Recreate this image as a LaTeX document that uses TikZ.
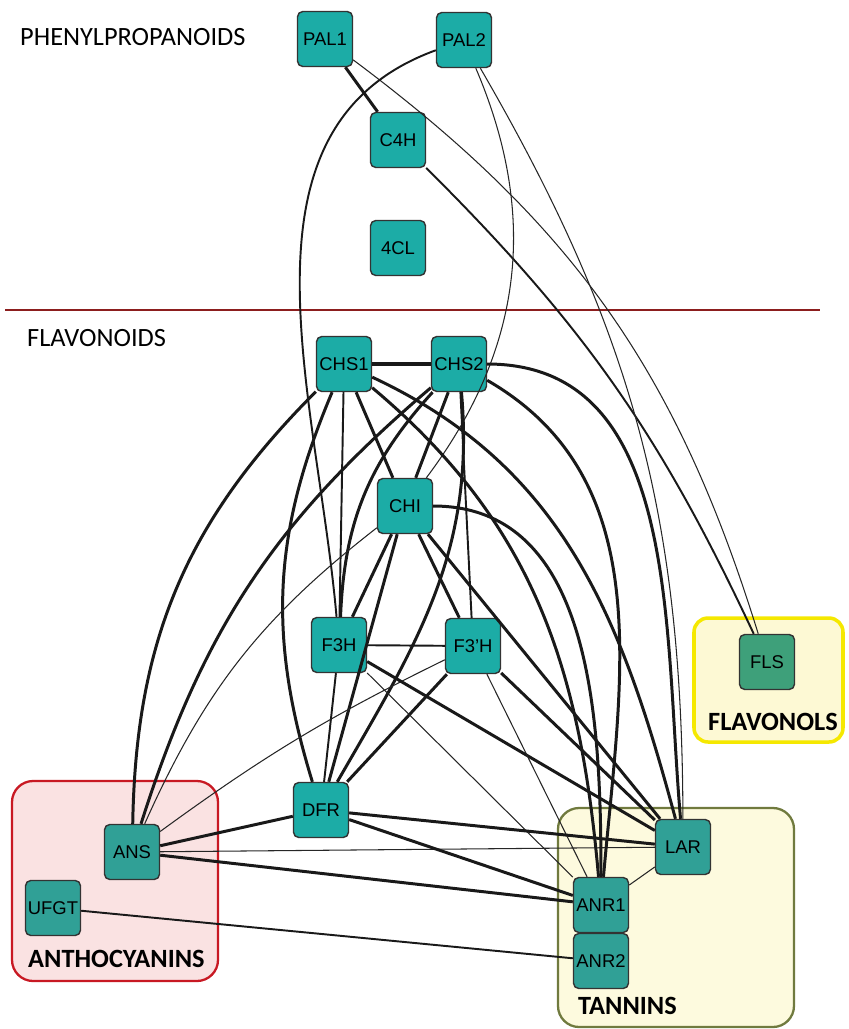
\documentclass[tikz,border=0pt]{standalone}
\usepackage{fontspec}
\setmainfont{Liberation Sans}
\newfontfamily\grpfont{Carlito}
\definecolor{genefill}{RGB}{28,172,166}
\definecolor{groupfill}{RGB}{48,160,150}
\definecolor{flsfill}{RGB}{62,160,122}
\definecolor{antho}{RGB}{200,25,35}
\definecolor{anthobg}{RGB}{250,226,226}
\definecolor{tannin}{RGB}{112,122,62}
\definecolor{tanninbg}{RGB}{253,250,222}
\definecolor{flavonol}{RGB}{245,232,0}
\definecolor{flavonolbg}{RGB}{253,249,212}
\definecolor{divider}{RGB}{140,30,30}
\begin{document}
\begin{tikzpicture}[x=0.02cm,y=-0.02cm,
    gene/.style={draw=black!80,fill=genefill,rounded corners=3pt,minimum size=1.1cm,
        inner sep=0pt,line width=0.8pt,font=\fontsize{10.5}{12}\selectfont},
    ingroup/.style={gene,fill=groupfill},
    section/.style={anchor=west,font=\grpfont\fontsize{15}{17}\selectfont},
    grouplabel/.style={anchor=west,font=\grpfont\bfseries\fontsize{15}{17}\selectfont},
    strong/.style={draw=black!90,line width=1.7pt},
    mid/.style={draw=black!90,line width=1.1pt},
    weak/.style={draw=black!85,line width=0.6pt}]
\useasboundingbox (0,0) rectangle (849,1029);
% groups
\draw [antho,fill=anthobg,line width=1.3pt,rounded corners=12pt] (12,781) rectangle (218,981);
\draw [tannin,fill=tanninbg,line width=1.3pt,rounded corners=12pt] (558,808) rectangle (794,1027);
\draw [flavonol,fill=flavonolbg,line width=2pt,rounded corners=8pt] (694,618) rectangle (843,742);
\draw [divider,line width=0.8pt] (5,310)--(820,310);
\node [section] at (14,37) {PHENYLPROPANOIDS};
\node [section] at (21,338) {FLAVONOIDS};
\node [grouplabel] at (22,959) {ANTHOCYANINS};
\node [grouplabel] at (572,1006) {TANNINS};
\node [grouplabel] at (702,722) {FLAVONOLS};
% genes
\node [gene] (PAL1) at (325,39) {PAL1};
\node [gene] (PAL2) at (464,40) {PAL2};
\node [gene] (C4H) at (398,140) {C4H};
\node [gene] (4CL) at (398,248) {4CL};
\node [gene] (CHS1) at (344,364) {CHS1};
\node [gene] (CHS2) at (459,364) {CHS2};
\node [gene] (CHI) at (405,506) {CHI};
\node [gene] (F3H) at (339,645) {F3H};
\node [gene] (F3pH) at (473,646) {F3'H};
\node [gene] (DFR) at (321,810) {DFR};
\node [ingroup] (ANS) at (132,852) {ANS};
\node [ingroup] (UFGT) at (53,908) {UFGT};
\node [ingroup] (LAR) at (683,847) {LAR};
\node [ingroup] (ANR1) at (601,905) {ANR1};
\node [ingroup] (ANR2) at (601,961) {ANR2};
\node [gene,fill=flsfill] (FLS) at (767,662) {FLS};
% phenylpropanoid links
\draw [strong] (PAL1)--(C4H);
\draw [mid] (C4H) to[bend left=10] (FLS);
\draw [weak] (PAL1) to[bend left=18] (FLS);
\draw [mid] (PAL2) to[out=200,in=95] (F3H);
\draw [weak] (PAL2) to[bend left=30] (CHI);
\draw [weak] (PAL2) to[bend left=15] (LAR);
% flavonoid core
\draw [draw=black!90,line width=2.6pt] (CHS1)--(CHS2);
\draw [strong] (CHS1)--(CHI);
\draw [mid] (CHS1)--(F3H);
\draw [strong] (CHS2)--(CHI);
\draw [mid] (CHS2)--(F3pH);
\draw [strong] (CHS2) to[bend right=20] (F3H);
\draw [strong] (CHI)--(F3H);
\draw [strong] (CHI)--(F3pH);
\draw [strong] (CHI)--(DFR);
\draw [mid] (F3H)--(F3pH);
\draw [mid] (F3H)--(DFR);
\draw [strong] (F3pH)--(DFR);
\draw [strong] (CHS1) to[bend right=20] (DFR);
\draw [strong] (CHS2) to[out=-85,in=60] (DFR);
% anthocyanins
\draw [strong] (CHS1) to[bend right=22] (ANS);
\draw [strong] (CHS2) to[bend right=16] (ANS);
\draw [weak] (CHI) to[bend right=14] (ANS);
\draw [weak] (F3pH) to[bend right=5] (ANS);
\draw [strong] (ANS)--(DFR);
\draw [weak] (ANS)--(LAR);
\draw [strong] (ANS)--(ANR1);
\draw [mid] (UFGT)--(ANR2);
% tannins
\draw [strong] (CHS1) to[out=-25,in=105] (LAR);
\draw [strong] (CHS1) to[out=-40,in=95] (ANR1);
\draw [strong] (CHS2) to[out=0,in=95] (LAR);
\draw [strong] (CHS2) to[out=-30,in=85] (ANR1);
\draw [strong] (CHI)--(LAR);
\draw [strong] (CHI) to[out=0,in=90] (ANR1);
\draw [strong] (F3H)--(LAR);
\draw [weak] (F3H)--(ANR1);
\draw [strong] (F3pH)--(LAR);
\draw [weak] (F3pH)--(ANR1);
\draw [strong] (DFR)--(LAR);
\draw [strong] (DFR)--(ANR1);
\draw [weak] (ANR1)--(LAR);
\end{tikzpicture}
\end{document}
